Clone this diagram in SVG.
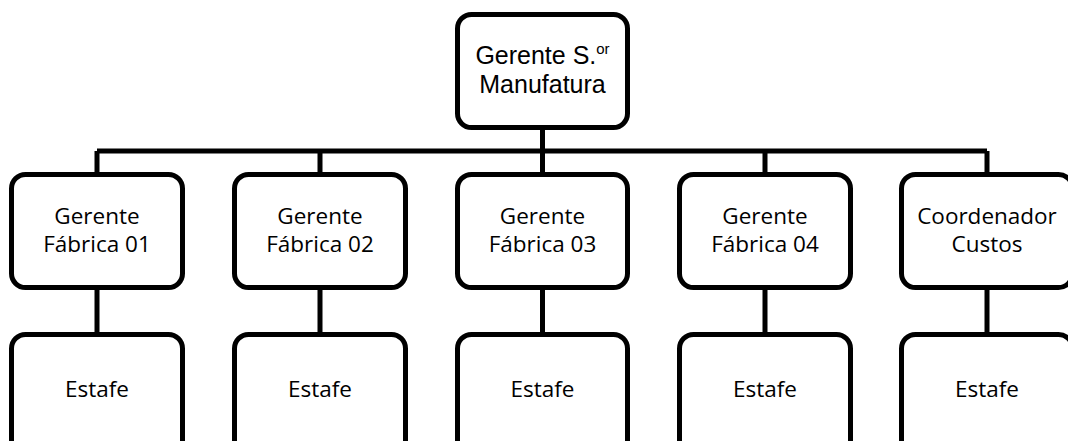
<svg xmlns="http://www.w3.org/2000/svg" width="1068" height="441" viewBox="0 0 1068 441">
<style>
.box{fill:#fff;stroke:#000;stroke-width:5}
.ln{stroke:#000;stroke-width:5;fill:none;stroke-linejoin:round}
.t{font-family:"Open Sans","Lato","Liberation Sans",sans-serif;font-size:22.5px;fill:#000;text-anchor:middle}
.ta{font-family:"Liberation Sans",Arial,sans-serif;font-size:25px;fill:#000;text-anchor:middle}
</style>
<rect width="1068" height="441" fill="#fff"/>
<g id="connectors">
<path class="ln" d="M542.5 130V151M97 151H987M97 151V172M320 151V172M542.5 151V172M765 151V172M987 151V172"/>
<path class="ln" d="M97 290V332M320 290V332M542.5 290V332M765 290V332M987 290V332"/>
</g>
<g id="gerente-sr">
<rect class="box" x="457.5" y="14.5" width="170" height="113" rx="14"/>
<text class="ta" x="542.5" y="64">Gerente S.<tspan font-size="15" dy="-10">or</tspan></text>
<text class="ta" x="542.5" y="93">Manufatura</text>
</g>
<g id="fabrica01">
<rect class="box" x="11.5" y="174.5" width="171" height="113" rx="14"/>
<text class="t" x="97" y="224">Gerente</text>
<text class="t" x="97" y="252">Fábrica 01</text>
</g>
<g id="fabrica02">
<rect class="box" x="234.5" y="174.5" width="171" height="113" rx="14"/>
<text class="t" x="320" y="224">Gerente</text>
<text class="t" x="320" y="252">Fábrica 02</text>
</g>
<g id="fabrica03">
<rect class="box" x="457.5" y="174.5" width="170" height="113" rx="14"/>
<text class="t" x="542.5" y="224">Gerente</text>
<text class="t" x="542.5" y="252">Fábrica 03</text>
</g>
<g id="fabrica04">
<rect class="box" x="679.5" y="174.5" width="171" height="113" rx="14"/>
<text class="t" x="765" y="224">Gerente</text>
<text class="t" x="765" y="252">Fábrica 04</text>
</g>
<g id="custos">
<rect class="box" x="901.5" y="174.5" width="171" height="113" rx="14"/>
<text class="t" x="987" y="224">Coordenador</text>
<text class="t" x="987" y="252">Custos</text>
</g>
<g id="estafe01"><rect class="box" x="11.5" y="334.5" width="171" height="130" rx="14"/><text class="t" x="97" y="397">Estafe</text></g>
<g id="estafe02"><rect class="box" x="234.5" y="334.5" width="171" height="130" rx="14"/><text class="t" x="320" y="397">Estafe</text></g>
<g id="estafe03"><rect class="box" x="457.5" y="334.5" width="170" height="130" rx="14"/><text class="t" x="542.5" y="397">Estafe</text></g>
<g id="estafe04"><rect class="box" x="679.5" y="334.5" width="171" height="130" rx="14"/><text class="t" x="765" y="397">Estafe</text></g>
<g id="estafe05"><rect class="box" x="901.5" y="334.5" width="171" height="130" rx="14"/><text class="t" x="987" y="397">Estafe</text></g>
</svg>
